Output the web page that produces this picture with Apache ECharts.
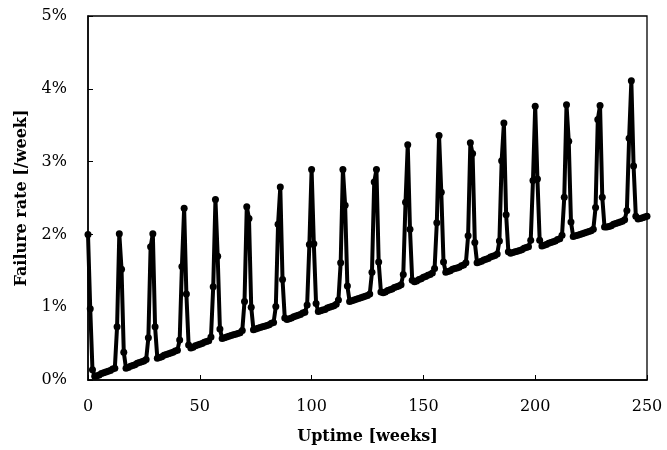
<!DOCTYPE html>
<html>
<head>
<meta charset="utf-8">
<title>Failure rate</title>
<script src="https://cdn.jsdelivr.net/npm/echarts@6/dist/echarts.min.js"></script>
<style>
  html, body { margin: 0; padding: 0; background: #fff; }
  #chart { width: 667px; height: 450px; }
</style>
</head>
<body>
<div id="chart"></div>
<script>
// failure rate [%/week] for uptime weeks 0..250, one value per week
var rates = [
  2.00, 0.98, 0.14,
  0.05, 0.06, 0.07, 0.09, 0.10, 0.11, 0.12, 0.13, 0.15, 0.16,
  0.73, 2.01, 1.52, 0.38,
  0.16, 0.17, 0.19, 0.20, 0.21, 0.23, 0.24, 0.25, 0.26, 0.28,
  0.58, 1.83, 2.01, 0.73,
  0.30, 0.31, 0.32, 0.34, 0.35, 0.36, 0.37, 0.38, 0.40, 0.41,
  0.55, 1.56, 2.36, 1.18, 0.48,
  0.44, 0.45, 0.47, 0.48, 0.49, 0.50, 0.52, 0.53, 0.54,
  0.59, 1.28, 2.48, 1.70, 0.70,
  0.57, 0.58, 0.59, 0.60, 0.61, 0.62, 0.63, 0.64, 0.65, 0.68,
  1.08, 2.38, 2.22, 1.00,
  0.69, 0.70, 0.71, 0.72, 0.73, 0.74, 0.75, 0.76, 0.78, 0.79,
  1.01, 2.14, 2.65, 1.38,
  0.85, 0.83, 0.84, 0.85, 0.87, 0.88, 0.89, 0.90, 0.92, 0.93,
  1.03, 1.86, 2.89, 1.87, 1.05,
  0.94, 0.95, 0.96, 0.97, 0.99, 1.00, 1.01, 1.02, 1.04,
  1.10, 1.61, 2.89, 2.40, 1.29,
  1.08, 1.09, 1.10, 1.11, 1.12, 1.13, 1.14, 1.15, 1.16, 1.18,
  1.48, 2.72, 2.89, 1.62,
  1.21, 1.20, 1.21, 1.23, 1.24, 1.25, 1.27, 1.28, 1.29, 1.31,
  1.45, 2.44, 3.23, 2.07, 1.37,
  1.35, 1.36, 1.38, 1.39, 1.41, 1.42, 1.44, 1.45, 1.47,
  1.53, 2.16, 3.36, 2.58, 1.62,
  1.48, 1.49, 1.50, 1.52, 1.53, 1.54, 1.55, 1.57, 1.58,
  1.61, 1.98, 3.26, 3.11, 1.89,
  1.61, 1.62, 1.63, 1.65, 1.66, 1.67, 1.69, 1.70, 1.71,
  1.73, 1.91, 3.01, 3.53, 2.27,
  1.76, 1.74, 1.75, 1.76, 1.77, 1.78, 1.79, 1.81, 1.82, 1.83,
  1.92, 2.74, 3.76, 2.76, 1.92,
  1.84, 1.85, 1.86, 1.88, 1.89, 1.90, 1.91, 1.93, 1.94,
  1.99, 2.51, 3.78, 3.28, 2.17,
  1.97, 1.98, 1.99, 2.00, 2.01, 2.02, 2.03, 2.04, 2.05, 2.07,
  2.37, 3.58, 3.77, 2.51,
  2.10, 2.10, 2.11, 2.12, 2.14, 2.15, 2.16, 2.17, 2.18, 2.20,
  2.33, 3.32, 4.11, 2.94, 2.25,
  2.21, 2.22, 2.23, 2.24, 2.25
];

var xTicks = [0, 50, 100, 150, 200, 250];
var yTicks = [0, 1, 2, 3, 4, 5];

var serif = "DejaVu Serif";

var chart = echarts.init(document.getElementById("chart"));

chart.setOption({
  animation: false,
  backgroundColor: "#fff",
  grid: {
    left: 88,
    right: 20,
    top: 16,
    bottom: 70,
    show: true,
    borderColor: "#000",
    borderWidth: 1.3,
  },
  xAxis: {
    type: "value",
    min: xTicks[0],
    max: xTicks[xTicks.length - 1],
    interval: 50,
    name: "Uptime [weeks]",
    nameLocation: "middle",
    nameGap: 49,
    nameTextStyle: {
      fontFamily: serif,
      fontWeight: "bold",
      fontSize: 16,
      color: "#000",
    },
    axisLine: { lineStyle: { color: "#000", width: 1.5 } },
    axisTick: { inside: true, length: 5, lineStyle: { color: "#000" } },
    axisLabel: {
      margin: 19,
      fontFamily: serif,
      fontSize: 16,
      color: "#000",
    },
    splitLine: { show: false },
  },
  yAxis: {
    type: "value",
    min: yTicks[0],
    max: yTicks[yTicks.length - 1],
    interval: 1,
    name: "Failure rate [/week]",
    nameLocation: "middle",
    nameGap: 58,
    nameTextStyle: {
      fontFamily: serif,
      fontWeight: "bold",
      fontSize: 16,
      color: "#000",
    },
    axisLine: { show: true, lineStyle: { color: "#000", width: 1.5 } },
    axisTick: { show: true, inside: true, length: 5, lineStyle: { color: "#000" } },
    axisLabel: {
      margin: 21,
      fontFamily: serif,
      fontSize: 16,
      color: "#000",
      formatter: "{value}%",
    },
    splitLine: { show: false },
  },
  series: [
    {
      type: "line",
      data: rates.map(function (v, i) { return [i, v]; }),
      symbol: "circle",
      symbolSize: 7,
      showAllSymbol: true,
      lineStyle: { color: "#000", width: 4 },
      itemStyle: { color: "#000" },
    },
  ],
});
</script>
</body>
</html>
